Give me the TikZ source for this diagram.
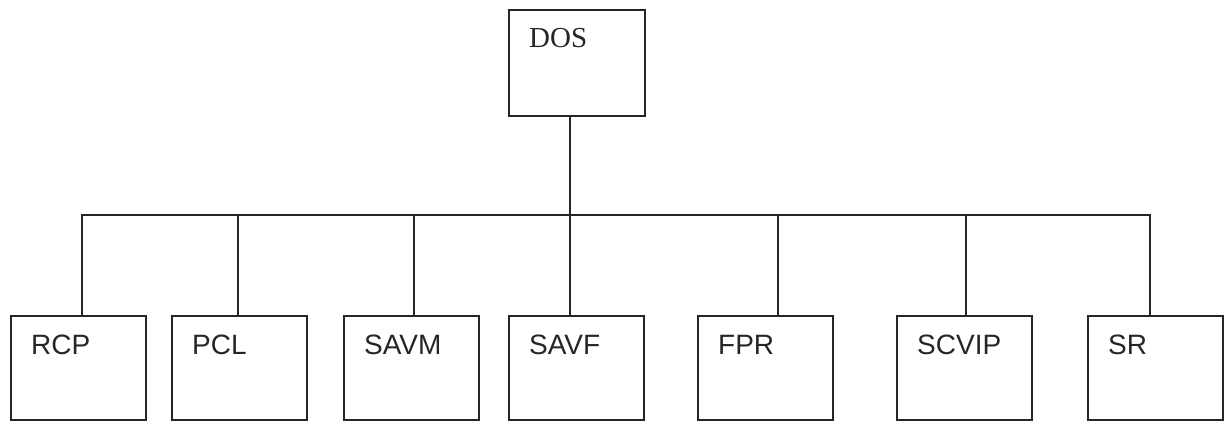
\documentclass[tikz,border=0pt]{standalone}
\usepackage{fontspec}
\setmainfont{Liberation Serif}
\newfontfamily\arialf{Liberation Sans}
\begin{document}
\begin{tikzpicture}[x=1pt,y=-1pt,
  box/.style={draw=black!85,line width=1.8pt,rectangle,inner sep=0pt,anchor=north west},
  conn/.style={draw=black!85,line width=1.8pt},
  sublabel/.style={anchor=base west,inner sep=0pt,font=\arialf\fontsize{28}{30}\selectfont,text=black!85},
  toplabel/.style={anchor=base west,inner sep=0pt,font=\fontsize{29}{31}\selectfont,text=black!85}]
\useasboundingbox (0,0) rectangle (1225,420);
% top box
\node[box,minimum width=136pt,minimum height=106pt] (dos) at (508,9) {};
\node[toplabel] (dost) at ([xshift=21pt,yshift=-39pt]dos.north west) {DOS};
% bottom boxes
\foreach \n/\x in {rcp/10,pcl/171,savm/343,savf/508,fpr/697,scvip/896,sr/1087}{
  \node[box,minimum width=135pt,minimum height=104pt] (\n) at (\x,315) {};
}
\foreach \n/\t in {rcp/RCP,pcl/PCL,savm/SAVM,savf/SAVF,fpr/FPR,scvip/SCVIP,sr/SR}{
  \node[sublabel] (\n t) at ([xshift=21pt,yshift=-39pt]\n.north west) {\t};
}
% bus
\coordinate (bus) at (570,215);
\coordinate (busL) at (82,215);
\coordinate (busR) at (1150,215);
\draw[conn] (dos.south -| bus) -- (bus);
\draw[conn] (busL |- rcp.north) -- (busL) -- (busR) -- (busR |- sr.north);
\draw[conn] (238,215) -- (238,315);
\draw[conn] (414,215) -- (414,315);
\draw[conn] (bus) -- (bus |- savf.north);
\draw[conn] (778,215) -- (778,315);
\draw[conn] (966,215) -- (966,315);
\end{tikzpicture}
\end{document}
